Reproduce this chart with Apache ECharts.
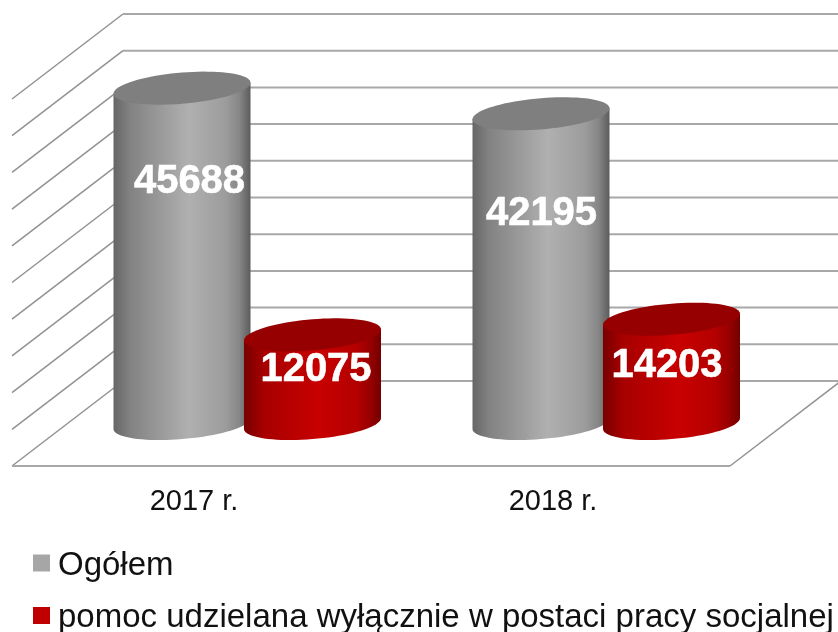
<!DOCTYPE html>
<html>
<head>
<meta charset="utf-8">
<title>Pomoc</title>
<style>
  html, body { margin: 0; padding: 0; background: #fff; }
  #chart { width: 838px; height: 632px; }
</style>
</head>
<body>
<div id="chart"></div>
<script src="https://cdn.jsdelivr.net/npm/echarts@6/dist/echarts.min.js"></script>
<script>
const categories = ['2017 r.', '2018 r.']
const seriesNames = ['Ogółem', 'pomoc udzielana wyłącznie w postaci pracy socjalnej']
const ogolem = [45688, 42195]
const pracaSocjalna = [12075, 14203]
const wallTicks = [0, 5000, 10000, 15000, 20000, 25000, 30000, 35000, 40000, 45000, 50000]

// fake 3d: the grid is the front plane of the box, depth goes up and to the right
const DEPTH_X = 111
const DEPTH_Y = -85
const RADIUS = 68.5
const TILT = 5.5
const FLAT = 15.6

// label placement was done by hand in the original, so nudge per series / category
const labelNudge = [
  [[7.5, 94], [0.5, 100]],
  [[3.5, 35], [-4.5, 47]]
]

const grayBody = [
  { offset: 0, color: '#666666' },
  { offset: 0.12, color: '#828282' },
  { offset: 0.55, color: '#b0b0b0' },
  { offset: 0.82, color: '#9c9c9c' },
  { offset: 0.92, color: '#868686' },
  { offset: 1, color: '#5c5c5c' }
]
const redBody = [
  { offset: 0, color: '#780000' },
  { offset: 0.15, color: '#a80000' },
  { offset: 0.55, color: '#c80000' },
  { offset: 0.82, color: '#b40000' },
  { offset: 0.92, color: '#980000' },
  { offset: 1, color: '#720000' }
]

function ellipsePoint (cx, cy, t) {
  return [
    cx + RADIUS * Math.cos(t),
    cy + FLAT * Math.sin(t) - TILT * Math.cos(t)
  ]
}

function cylinder (seriesIndex, barShift, stops, capColor) {
  return function (params, api) {
    const idx = api.value(0)
    const val = api.value(1)
    const base = api.coord([idx, 0])
    const top = api.coord([idx, val])
    const cx = base[0] + DEPTH_X / 2 + barShift
    const baseY = base[1] + DEPTH_Y / 2
    const topY = top[1] + DEPTH_Y / 2

    const body = [[cx - RADIUS, topY + TILT], [cx + RADIUS, topY - TILT]]
    const cap = []
    for (let i = 0; i <= 40; i++) {
      body.push(ellipsePoint(cx, baseY, Math.PI * i / 40))
    }
    for (let i = 0; i < 80; i++) {
      cap.push(ellipsePoint(cx, topY, Math.PI * 2 * i / 80))
    }
    const nudge = labelNudge[seriesIndex][idx]
    return {
      type: 'group',
      children: [
        {
          type: 'polygon',
          shape: { points: body },
          style: { fill: new echarts.graphic.LinearGradient(0, 0, 1, 0, stops) }
        },
        {
          type: 'polygon',
          shape: { points: cap },
          style: { fill: capColor }
        },
        {
          type: 'text',
          style: {
            x: cx + nudge[0],
            y: topY + nudge[1],
            text: String(val),
            fill: '#fff',
            stroke: '#fff',
            lineWidth: 0.6,
            font: 'bold 40px "Liberation Sans", Arial, sans-serif',
            align: 'center',
            verticalAlign: 'middle'
          }
        }
      ]
    }
  }
}

function renderWall (params, api) {
  const val = api.value(0)
  const band = api.size([1, 0])[0]
  const mid = api.coord([0, val])
  // category coord gives the band centre, walls start at the band edge
  const front = [mid[0] - band / 2, mid[1]]
  const right = front[0] + band * categories.length
  const back = [front[0] + DEPTH_X, front[1] + DEPTH_Y]
  const diag = { stroke: '#929292', lineWidth: 1.5, fill: null }
  const flat = { stroke: '#a8a8a8', lineWidth: 2, fill: null }
  const children = [
    { type: 'line', shape: { x1: front[0], y1: front[1], x2: back[0], y2: back[1] }, style: diag },
    { type: 'line', shape: { x1: back[0], y1: back[1], x2: right + DEPTH_X, y2: back[1] }, style: flat }
  ]
  if (val === 0) {
    children.push(
      { type: 'line', shape: { x1: front[0], y1: front[1], x2: right, y2: front[1] }, style: flat },
      { type: 'line', shape: { x1: right, y1: front[1], x2: right + DEPTH_X, y2: back[1] }, style: diag }
    )
  }
  return { type: 'group', children: children }
}

const chart = echarts.init(document.getElementById('chart'))

chart.setOption({
  animation: false,
  backgroundColor: '#fff',
  legend: {
    orient: 'vertical',
    left: 33,
    top: 549,
    height: 120,
    padding: 0,
    itemWidth: 17,
    itemHeight: 17,
    itemGap: 19.5,
    selectedMode: false,
    formatter: '{t|{name}}',
    textStyle: {
      rich: {
        t: {
          fontFamily: '"Liberation Sans", Arial, sans-serif',
          fontSize: 33,
          color: '#111',
          padding: [5, 0, 0, 3]
        }
      }
    },
    data: [
      { name: seriesNames[0], icon: 'rect', itemStyle: { color: '#a6a6a6' } },
      { name: seriesNames[1], icon: 'rect', itemStyle: { color: '#c00000' } }
    ]
  },
  grid: {
    left: 12,
    width: 718,
    top: 99,
    height: 367
  },
  xAxis: {
    type: 'category',
    data: categories,
    axisLine: { show: false },
    axisTick: { show: false },
    axisLabel: {
      margin: 21,
      padding: [0, 0, 0, 5],
      fontFamily: '"Liberation Sans", Arial, sans-serif',
      fontSize: 29,
      color: '#111'
    }
  },
  yAxis: {
    type: 'value',
    show: false,
    min: 0,
    max: 50000,
    interval: 5000
  },
  series: [
    {
      type: 'custom',
      name: 'wall',
      silent: true,
      clip: false,
      coordinateSystem: 'cartesian2d',
      renderItem: renderWall,
      encode: { y: 0 },
      data: wallTicks.map(v => [v])
    },
    {
      type: 'custom',
      name: seriesNames[0],
      silent: true,
      clip: false,
      renderItem: cylinder(0, -65, grayBody, '#7f7f7f'),
      encode: { x: 0, y: 1 },
      data: ogolem.map((v, i) => [i, v])
    },
    {
      type: 'custom',
      name: seriesNames[1],
      silent: true,
      clip: false,
      renderItem: cylinder(1, 65.5, redBody, '#960000'),
      encode: { x: 0, y: 1 },
      data: pracaSocjalna.map((v, i) => [i, v])
    }
  ]
})
</script>
</body>
</html>
